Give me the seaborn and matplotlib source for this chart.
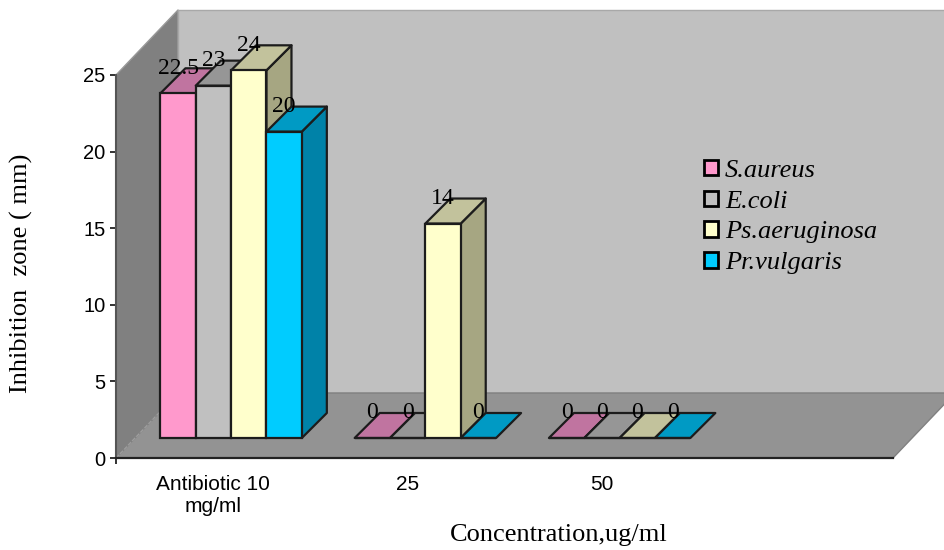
import matplotlib
matplotlib.use("Agg")
import matplotlib.pyplot as plt
import pandas as pd
import seaborn as sns
from matplotlib.patches import Polygon
from matplotlib.transforms import IdentityTransform

categories = ["Antibiotic 10\nmg/ml", "25", "50"]
series_names = ["S.aureus", "E.coli", "Ps.aeruginosa", "Pr.vulgaris"]
s_aureus = [22.5, 0, 0]
e_coli = [23, 0, 0]
ps_aeruginosa = [24, 14, 0]
pr_vulgaris = [20, 0, 0]
y_ticks = [0, 5, 10, 15, 20, 25]

front_colors = ["#FF99CC", "#C0C0C0", "#FFFFCC", "#00CCFF"]
top_colors = ["#C074A0", "#969696", "#C2C29C", "#009AC4"]
side_colors = ["#A8668A", "#808080", "#A6A682", "#0082A8"]

# offsets in pixels, the chart is a fake 3d box
BAR_DX, BAR_DY = 18, 20
DEPTH = 25
BOX_DX, BOX_DY = 62, 65
EDGE = "#1c1c1c"

rows = []
for name, values in zip(series_names, [s_aureus, e_coli, ps_aeruginosa, pr_vulgaris]):
    for cat, val in zip(categories, values):
        rows.append({"category": cat, "series": name, "value": val})
df = pd.DataFrame(rows)

sns.set_style("white")
plt.rcParams["font.family"] = ["Liberation Serif", "DejaVu Serif"]

W, H = 944, 550
fig = plt.figure(figsize=(W / 100, H / 100), dpi=100)
ax = fig.add_axes([116 / W, (H - 458) / H, (893 - 116) / W, (458 - 75) / H])
ax.patch.set_visible(False)

sns.barplot(
    data=df, x="category", y="value", hue="series",
    order=categories + [" "], hue_order=series_names,
    palette=front_colors, width=0.728, saturation=1,
    dodge=True, errorbar=None, legend=False,
    edgecolor=EDGE, linewidth=1.6, ax=ax,
)
ax.set_xlim(-0.5, 3.5)
ax.set_ylim(0, 25)
ax.set_xlabel("")
ax.set_ylabel("")
fig.canvas.draw()


def px(x, y):
    return ax.transData.transform((x, y))


def face(points, color, z, edge=EDGE, lw=1.6):
    ax.add_patch(Polygon(points, closed=True, facecolor=color, edgecolor=edge, linewidth=lw,
                         transform=IdentityTransform(), clip_on=False, zorder=z,
                         joinstyle="round"))


# walls and floor
x0, y0 = px(-0.5, 0)
x1, _ = px(3.5, 0)
_, ytop = px(-0.5, 25)
face([(x0, y0), (x0 + BOX_DX, y0 + BOX_DY), (x0 + BOX_DX, ytop + BOX_DY), (x0, ytop)],
     "#808080", 0.1, edge="#999999", lw=1)
face([(x0 + BOX_DX, y0 + BOX_DY), (x1 + BOX_DX, y0 + BOX_DY), (x1 + BOX_DX, ytop + BOX_DY),
      (x0 + BOX_DX, ytop + BOX_DY)], "#C0C0C0", 0.2, edge="#A8A8A8", lw=1)
face([(x0, y0), (x1, y0), (x1 + BOX_DX, y0 + BOX_DY), (x0 + BOX_DX, y0 + BOX_DY)],
     "#939393", 0.3, edge="#808080", lw=1)
ax.plot([x0, x0 + BOX_DX], [y0, y0 + BOX_DY], color="#A0A0A0", lw=0.8, ls="--",
        transform=IdentityTransform(), clip_on=False, zorder=0.35)

# bars with their side and top faces
for i, container in enumerate(ax.containers):
    for j, bar in enumerate(container):
        val = bar.get_height()
        left, base = px(bar.get_x(), 0)
        right, top = px(bar.get_x() + bar.get_width(), val)
        left, right = left + BAR_DX, right + BAR_DX
        base, top = base + BAR_DY, top + BAR_DY
        z = 3 + j + i * 0.1
        if val > 0:
            face([(right, base), (right + DEPTH, base + DEPTH), (right + DEPTH, top + DEPTH),
                  (right, top)], side_colors[i], z)
        face([(left, top), (right, top), (right + DEPTH, top + DEPTH), (left + DEPTH, top + DEPTH)],
             top_colors[i], z)
        bar.set_transform(IdentityTransform())
        bar.set_xy((left, base))
        bar.set_width(right - left)
        bar.set_height(top - base)
        bar.set_clip_on(False)
        bar.set_zorder(z + 0.01)
        ax.text((left + right) / 2, top + 25, f"{val:g}", transform=IdentityTransform(),
                ha="center", va="center", fontsize=17, color="black", zorder=20, clip_on=False)

ax.set_yticks(y_ticks)
ax.set_xticks(range(4), labels=categories + [""])
ax.set_xticks([-0.5], minor=True)
ax.tick_params(axis="y", length=4.5, width=1.3, color="#222222", left=True, pad=3,
               labelsize=14.5, labelcolor="black", labelfontfamily="Liberation Sans")
ax.tick_params(axis="x", which="major", length=0, pad=12, labelsize=15, labelcolor="black",
               labelfontfamily="Liberation Sans")
ax.tick_params(axis="x", which="minor", length=4, width=1.3, color="#222222", bottom=True)

for side in ["top", "right"]:
    ax.spines[side].set_visible(False)
ax.spines["left"].set_color("#555555")
ax.spines["left"].set_linewidth(1.5)
ax.spines["bottom"].set_color("#222222")
ax.spines["bottom"].set_linewidth(1.6)
ax.spines["left"].set_zorder(2)
ax.spines["bottom"].set_zorder(2)

fig.text(559 / W, (H - 535) / H, "Concentration,ug/ml", ha="center", va="center",
         fontsize=19, color="black")
fig.text(21 / W, (H - 273) / H, "Inhibition  zone ( mm)", ha="center", va="center",
         rotation=90, fontsize=19, color="black")

# legend, built from the bars themselves
handles = [c[0] for c in ax.containers]
leg = ax.legend(
    handles, series_names, frameon=False, loc="center left",
    bbox_to_anchor=((704 - 116) / (893 - 116), (458 - 217) / (458 - 75)),
    prop={"family": "Liberation Serif", "style": "italic", "size": 19},
    labelcolor="black",
    handlelength=0.53, handleheight=0.53, handletextpad=0.27, labelspacing=0.33,
    borderpad=0, borderaxespad=0,
)
leg.set_zorder(30)
for h in leg.get_patches():
    h.set_linewidth(2)
    h.set_edgecolor("black")

fig.savefig("out.png", dpi=100)
plt.close(fig)
